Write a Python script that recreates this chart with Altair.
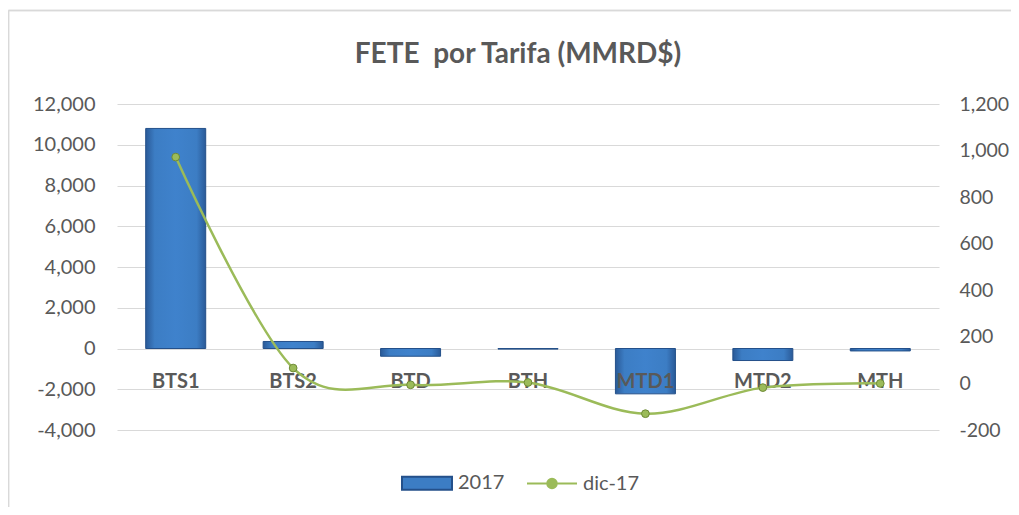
import altair as alt
import pandas as pd

cats = ["BTS1", "BTS2", "BTD", "BTH", "MTD1", "MTD2", "MTH"]
v2017 = [10800, 345, -380, -30, -2225, -590, -120]
dic17 = [972, 66, -6, 4, -130, -18, 0]
series = ["2017", "dic-17"]
left_ticks = [-4000, -2000, 0, 2000, 4000, 6000, 8000, 10000, 12000]
right_ticks = [-200, 0, 200, 400, 600, 800, 1000, 1200]

df = pd.DataFrame({"cat": cats, "v2017": v2017, "dic17": dic17})
legend_df = pd.DataFrame({"s": series})

FONT = "Lato"
GREY = "#595959"
BLUE = "#3C7DC4"
DARKBLUE = "#24508A"
GREEN = "#9BBB59"
LABEL_EXPR = "(datum.value < 0 ? '-' : '') + format(abs(datum.value), ',d')"

x = alt.X("cat:N", sort=cats, axis=None, scale=alt.Scale(paddingInner=0, paddingOuter=0))
yl_scale = alt.Scale(domain=[-4000, 12000], nice=False)
yr_scale = alt.Scale(domain=[-200, 1200], nice=False)

left_axis = alt.Axis(values=left_ticks, labelExpr=LABEL_EXPR, title=None, domain=False, ticks=False,
                     labelFontSize=20, labelColor=GREY, labelFont=FONT, labelPadding=22,
                     gridColor="#D9D9D9", gridWidth=1)
right_axis = alt.Axis(values=right_ticks, labelExpr=LABEL_EXPR, title=None, orient="right", domain=False,
                      ticks=False, grid=False, labelFontSize=19.5, labelColor=GREY, labelFont=FONT,
                      labelPadding=20)

bar_fill = alt.Gradient(
    gradient="linear", x1=0, x2=1, y1=0, y2=0,
    stops=[alt.GradientStop(color="#2A5A98", offset=0),
           alt.GradientStop(color="#3C7DC4", offset=0.15),
           alt.GradientStop(color="#3F82CC", offset=0.5),
           alt.GradientStop(color="#3C7DC4", offset=0.85),
           alt.GradientStop(color="#2A5A98", offset=1)],
)

bars = alt.Chart(df).mark_bar(size=60, color=bar_fill, stroke=DARKBLUE, strokeWidth=1).encode(
    x=x,
    y=alt.Y("v2017:Q", scale=yl_scale, axis=left_axis),
)

labels = alt.Chart(df).mark_text(fontSize=20, fontWeight="bold", color=GREY, font=FONT, dy=33).encode(
    x=x,
    y=alt.Y(datum=0, scale=yl_scale, axis=left_axis),
    text="cat:N",
)

legend_layer = alt.Chart(legend_df).transform_filter("false").mark_point(
    filled=True, opacity=1
).encode(
    color=alt.Color("s:N", scale=alt.Scale(domain=series, range=[BLUE, GREEN]), title=None,
                    legend=alt.Legend(orient="none", legendX=284, legendY=353, direction="horizontal",
                                      title=None, labelFontSize=20, labelColor=GREY, labelFont=FONT,
                                      symbolSize=2500, symbolStrokeWidth=2, columnPadding=18,
                                      labelOffset=5)),
    stroke=alt.Stroke("s:N", scale=alt.Scale(domain=series, range=[DARKBLUE, GREEN]), title=None),
    shape=alt.Shape("s:N", scale=alt.Scale(domain=series, range=[
        "M-1,-0.26H1V0.26H-1Z",
        "M-1,0H1M0.19,0A0.19,0.19 0 1,1 -0.19,0A0.19,0.19 0 1,1 0.19,0",
    ]), title=None),
)

# light frame around the whole chart area (top and left edges, as in the reference)
frame_top = alt.Chart(legend_df).mark_rule(color="#D9D9D9", strokeWidth=1.5).encode(
    x=alt.value(-108.5), x2=alt.value(902), y=alt.value(-93.5))
frame_left = alt.Chart(legend_df).mark_rule(color="#D9D9D9", strokeWidth=1.5).encode(
    x=alt.value(-108.5), y=alt.value(-93.5), y2=alt.value(420))

left = alt.layer(frame_top, frame_left, bars, labels, legend_layer)

line = alt.Chart(df).mark_line(interpolate="cardinal", strokeWidth=2.5, color=GREEN).encode(
    x=x,
    y=alt.Y("dic17:Q", scale=yr_scale, axis=right_axis),
)
pts = alt.Chart(df).mark_circle(size=60, color=GREEN, stroke="#6E8A36", strokeWidth=1, opacity=1).encode(
    x=x,
    y=alt.Y("dic17:Q", scale=yr_scale, axis=right_axis),
)

right = alt.layer(line, pts)

chart = alt.layer(left, right).resolve_scale(y="independent").properties(
    width=822,
    height=326,
    title=alt.TitleParams("FETE\u00a0 por Tarifa (MMRD$)", fontSize=28, fontWeight="bold", color=GREY,
                          font=FONT, offset=27, anchor="middle", dx=-10, dy=86),
    autosize=alt.AutoSizeParams(type="none"),
    padding={"left": 109, "top": 96, "right": 72, "bottom": 77},
).configure_view(stroke=None)

chart.save("out.html", embed_options={"renderer": "svg", "actions": False})
